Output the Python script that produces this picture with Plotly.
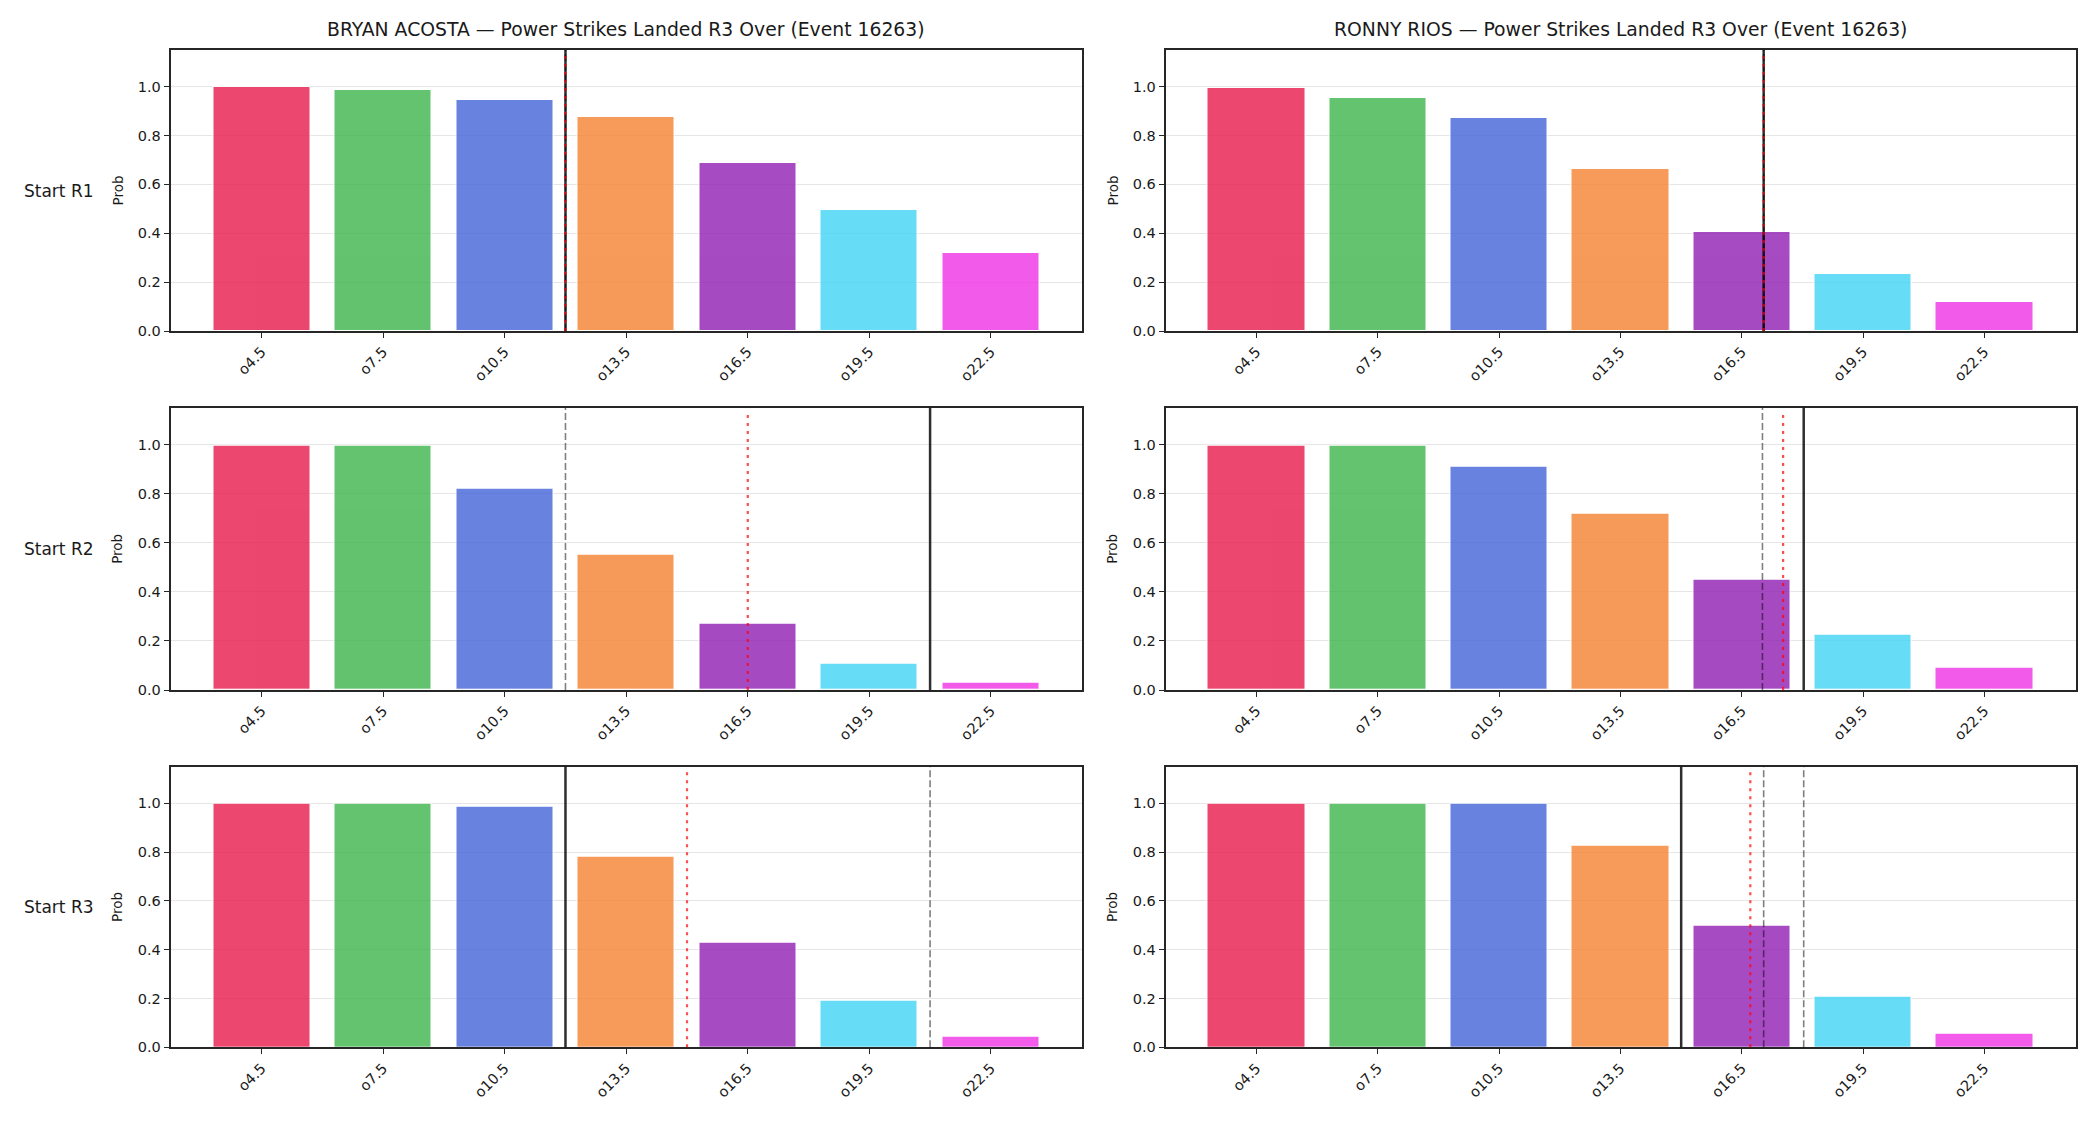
import plotly.graph_objects as go

# ---------------- data ----------------
categories = ["o4.5", "o7.5", "o10.5", "o13.5", "o16.5", "o19.5", "o22.5"]
fighters = ["BRYAN ACOSTA", "RONNY RIOS"]
rows = ["Start R1", "Start R2", "Start R3"]

acosta_r1 = [0.997, 0.985, 0.944, 0.874, 0.689, 0.497, 0.319]
acosta_r2 = [0.997, 0.997, 0.822, 0.552, 0.270, 0.106, 0.029]
acosta_r3 = [0.997, 0.997, 0.985, 0.780, 0.428, 0.190, 0.042]
rios_r1 = [0.993, 0.952, 0.870, 0.661, 0.406, 0.234, 0.119]
rios_r2 = [0.997, 0.997, 0.911, 0.719, 0.450, 0.225, 0.090]
rios_r3 = [0.997, 0.997, 0.997, 0.825, 0.499, 0.206, 0.055]

# reference line positions (in category-index units)
acosta_solid = [2.5, 5.5, 2.5]
acosta_dotted = [2.5, 4.0, 3.5]
acosta_dashed = [[2.5], [2.5], [5.5]]
rios_solid = [4.18, 4.51, 3.5]
rios_dotted = [4.18, 4.34, 4.07]
rios_dashed = [[4.18], [4.17], [4.18, 4.51]]

bar_colors = ["#e6194b", "#3cb44b", "#4363d8", "#f58231", "#911eb4", "#42d4f4", "#f032e6"]

values = [[acosta_r1, rios_r1], [acosta_r2, rios_r2], [acosta_r3, rios_r3]]
solid = [acosta_solid, rios_solid]
dotted = [acosta_dotted, rios_dotted]
dashed = [acosta_dashed, rios_dashed]

W, H = 2100, 1125
xdom = [[170.5 / W, 1082 / W], [1165.5 / W, 2075.5 / W]]
ypix = [(50, 331), (407.7, 690), (766.7, 1047.3)]

fig = go.Figure()
layout = {}
shapes = []
annotations = []
font = "DejaVu Sans"
xs = list(range(len(categories)))

for r in range(3):
    for c in range(2):
        k = r * 2 + c + 1
        sfx = "" if k == 1 else str(k)
        fig.add_trace(go.Bar(
            x=xs, y=values[r][c], width=0.8,
            marker=dict(color=bar_colors, opacity=0.8,
                        line=dict(color="white", width=1)),
            xaxis="x" + sfx, yaxis="y" + sfx, showlegend=False,
            hoverinfo="y",
        ))
        top, bot = ypix[r]
        layout["xaxis" + sfx] = dict(
            domain=xdom[c], anchor="y" + sfx, range=[-0.75, 6.75], automargin=False,
            tickmode="array", tickvals=xs, ticktext=categories, tickangle=-45,
            ticks="outside", ticklen=5, tickwidth=1.2, tickcolor="#262626",
            showline=True, mirror=True, linecolor="#262626", linewidth=1.6,
            showgrid=False, zeroline=False,
            tickfont=dict(family=font, size=14.5, color="#1a1a1a"),
        )
        layout["yaxis" + sfx] = dict(
            domain=[1 - bot / H, 1 - top / H], anchor="x" + sfx, range=[0, 1.15],
            automargin=False,
            tickmode="array", tickvals=[0, 0.2, 0.4, 0.6, 0.8, 1.0],
            ticktext=["0.0", "0.2", "0.4", "0.6", "0.8", "1.0"],
            ticks="outside", ticklen=5, tickwidth=1.2, tickcolor="#262626",
            showline=True, mirror=True, linecolor="#262626", linewidth=1.6,
            showgrid=True, gridcolor="#e6e6e6", gridwidth=1, zeroline=False,
            tickfont=dict(family=font, size=14.5, color="#1a1a1a"),
        )
        # reference lines
        for xv in dashed[c][r]:
            shapes.append(dict(type="line", xref="x" + sfx, yref="y" + sfx + " domain",
                               x0=xv, x1=xv, y0=0, y1=1, layer="above",
                               line=dict(color="rgba(0,0,0,0.5)", width=1.6, dash="7px,3px")))
        xv = solid[c][r]
        shapes.append(dict(type="line", xref="x" + sfx, yref="y" + sfx + " domain",
                           x0=xv, x1=xv, y0=0, y1=1, layer="above",
                           line=dict(color="rgba(0,0,0,0.82)", width=2.5)))
        xv = dotted[c][r]
        shapes.append(dict(type="line", xref="x" + sfx, yref="y" + sfx + " domain",
                           x0=xv, x1=xv, y0=0, y1=0.98, layer="above",
                           line=dict(color="rgba(255,0,0,0.7)", width=2.2, dash="3px,5px")))
        # y-axis label
        xl = (xdom[c][0] * W - 53.5) / W
        annotations.append(dict(text="Prob", xref="paper", yref="paper",
                                x=xl, y=1 - (top + bot) / 2 / H, showarrow=False,
                                textangle=-90, xanchor="center", yanchor="middle",
                                font=dict(family=font, size=13.5, color="#1a1a1a")))
    # row label
    top, bot = ypix[r]
    annotations.append(dict(text=rows[r], xref="paper", yref="paper",
                            x=22 / W, y=1 - (top + bot) / 2 / H, showarrow=False,
                            xanchor="left", yanchor="middle",
                            font=dict(family=font, size=17, color="#1a1a1a")))

for c in range(2):
    annotations.append(dict(
        text=f"{fighters[c]} — Power Strikes Landed R3 Over (Event 16263)",
        xref="paper", yref="paper", x=(xdom[c][0] + xdom[c][1]) / 2, y=1 - 30 / H,
        showarrow=False, xanchor="center", yanchor="middle",
        font=dict(family=font, size=18.8, color="#1a1a1a")))

fig.update_layout(
    width=W, height=H, margin=dict(l=0, r=0, t=0, b=0, autoexpand=False),
    paper_bgcolor="white", plot_bgcolor="white",
    shapes=shapes, annotations=annotations, bargap=0, **layout,
)
fig.write_html("out.html")
